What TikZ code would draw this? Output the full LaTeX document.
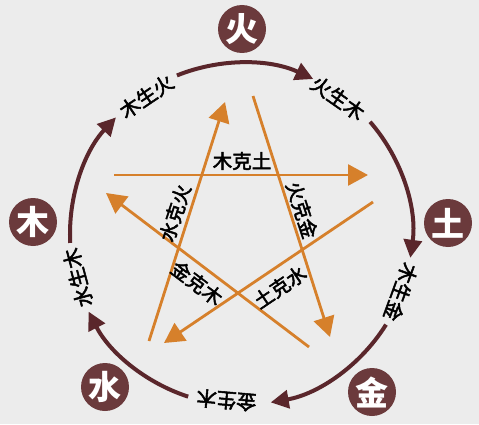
\documentclass[tikz,border=0pt]{standalone}
\usepackage{fontspec}
\newfontfamily\cjk{Noto Sans CJK SC}
\newfontfamily\cjkm[FakeBold=2.5]{Noto Sans CJK SC}
\usetikzlibrary{arrows.meta,calc}
\definecolor{bgc}{HTML}{ECECEC}
\definecolor{elemc}{HTML}{6B3A3C}
\definecolor{arcc}{HTML}{5A262B}
\definecolor{orangec}{HTML}{D6802B}
\tikzset{
  elem/.style={circle,fill=elemc,minimum size=48pt,inner sep=0pt,text=white,
    font=\cjk\bfseries\fontsize{33}{33}\selectfont},
  shenglabel/.style={inner sep=0pt,text=black,font=\cjkm\fontsize{20}{20}\selectfont},
  kelabel/.style={inner sep=0pt,text=black,font=\cjkm\fontsize{19.5}{19.5}\selectfont},
  shengarc/.style={draw=arcc,line width=4pt,-{Triangle[length=18pt,width=18pt]}},
  keline/.style={draw=orangec,line width=2.8pt,-{Triangle[length=20pt,width=21pt]}}
}
\begin{document}
\begin{tikzpicture}[x=1pt,y=1pt]
\fill[bgc] (0,0) rectangle (479,424);
\useasboundingbox (0,0) rectangle (479,424);
\coordinate (C) at (241,190);
% elements
\node[elem] (huo) at (242,395) {火};
\node[elem] (tu) at (448,201) {土};
\node[elem] (jin) at (372,32) {金};
\node[elem] (shui) at (105,37) {水};
\node[elem] (mu) at (33,202) {木};
% sheng arcs
\coordinate (s1) at ($(C)+(112:171)$);
\coordinate (s2) at ($(C)+(41:171)$);
\coordinate (s3) at ($(C)+(-32:171)$);
\coordinate (s4) at ($(C)+(252:171)$);
\coordinate (s5) at ($(C)+(183:171)$);
\draw[shengarc] (s1) arc[start angle=112,end angle=65,radius=171];
\draw[shengarc] (s2) arc[start angle=41,end angle=-8,radius=171];
\draw[shengarc] (s3) arc[start angle=-32,end angle=-80,radius=171];
\draw[shengarc] (s4) arc[start angle=252,end angle=207,radius=171];
\draw[shengarc] (s5) arc[start angle=183,end angle=137,radius=171];
% sheng labels
\node[shenglabel,rotate=34] (l1) at ($(C)+(124.5:167)$) {木生火};
\node[shenglabel,rotate=-35] (l2) at ($(C)+(54.5:167)$) {火生木};
\node[shenglabel,rotate=-110] (l3) at ($(C)+(-20:170)$) {木生金};
\node[shenglabel,rotate=175] (l4) at ($(C)+(265:167)$) {金生木};
\node[shenglabel,rotate=105] (l5) at ($(C)+(195:169)$) {水生木};
% ke lines
\coordinate (a0) at (149,83);  \coordinate (a1) at (225,322);
\coordinate (b0) at (253,328); \coordinate (b1) at (330,87);
\coordinate (c0) at (114,249); \coordinate (c1) at (368,249);
\coordinate (d0) at (373,222); \coordinate (d1) at (164,81);
\coordinate (e0) at (309,77);  \coordinate (e1) at (106,231);
\draw[keline] (a0) -- (a1);
\draw[keline] (b0) -- (b1);
\draw[keline] (c0) -- (c1);
\draw[keline] (d0) -- (d1);
\draw[keline] (e0) -- (e1);
% ke labels
\node[kelabel,rotate=72] (k1) at (175,211) {水克火};
\node[kelabel,rotate=-72] (k2) at (302,214) {火克金};
\node[kelabel] (k3) at (242,263) {木克土};
\node[kelabel,rotate=34] (k4) at (280,137) {土克水};
\node[kelabel,rotate=-37] (k5) at (197,141) {金克木};
\end{tikzpicture}
\end{document}
